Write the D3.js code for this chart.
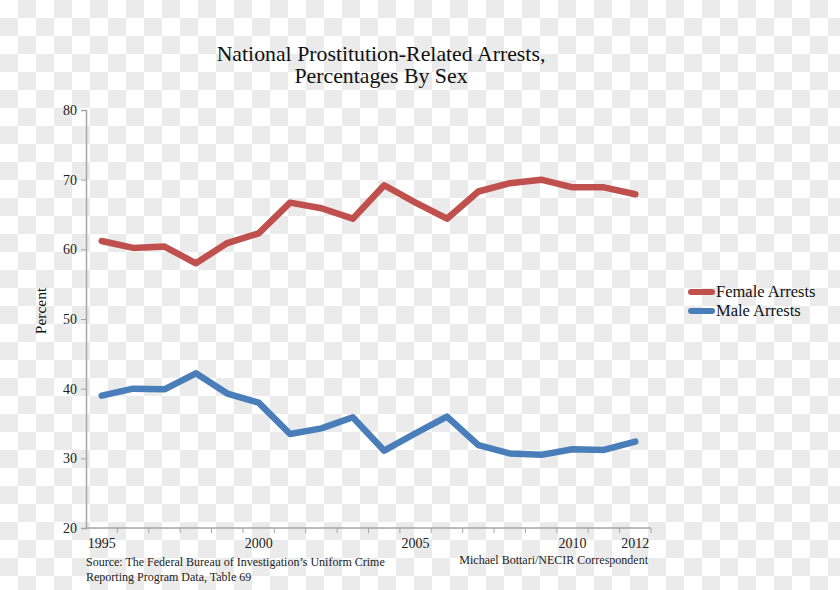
<!DOCTYPE html>
<html><head><meta charset="utf-8">
<script src="https://cdn.jsdelivr.net/npm/d3@7"></script>
<style>html,body{margin:0;padding:0;background:#fff;}svg{display:block;}</style>
</head><body>
<svg id="chart" width="840" height="590"></svg>
<script>
const years = [1995,1996,1997,1998,1999,2000,2001,2002,2003,2004,2005,2006,2007,2008,2009,2010,2011,2012];
const female = [61.2,60.2,60.4,58.0,60.9,62.3,66.7,65.9,64.4,69.2,66.7,64.4,68.3,69.5,70.0,68.9,68.9,67.9];
const male   = [39.0,40.0,39.9,42.2,39.3,38.0,33.5,34.3,35.9,31.1,33.6,36.0,31.9,30.7,30.5,31.3,31.2,32.4];
const yTicks = [20,30,40,50,60,70,80];
const xLabels = [1995,2000,2005,2010,2012];
const seriesNames = ["Female Arrests","Male Arrests"];
const seriesColors = ["#c0504d","#4a7ebb"];

const svg = d3.select("#chart");
const font = "'Liberation Serif', 'DejaVu Serif', serif";

// checkerboard background
const defs = svg.append("defs");
const pat = defs.append("pattern").attr("id","cb").attr("width",36).attr("height",36).attr("patternUnits","userSpaceOnUse");
pat.append("rect").attr("width",36).attr("height",36).attr("fill","#ffffff");
pat.append("rect").attr("x",18).attr("y",0).attr("width",18).attr("height",18).attr("fill","#ebebeb");
pat.append("rect").attr("x",0).attr("y",18).attr("width",18).attr("height",18).attr("fill","#ebebeb");
svg.append("rect").attr("width",840).attr("height",590).attr("fill","url(#cb)");

const mLeft = 86, mRight = 651, mTop = 110, mBottom = 528;
const x = d3.scaleBand().domain(years).range([mLeft,mRight]).padding(0);
const y = d3.scaleLinear().domain([20,80]).range([mBottom,mTop]);

const axisColor = "#a6a6a6";

// Y axis
const yAxis = svg.append("g").attr("transform",`translate(${mLeft},0)`)
  .call(d3.axisLeft(y).tickValues(yTicks).tickSize(5).tickPadding(4).tickFormat(d3.format("d")));
yAxis.select(".domain").attr("stroke",axisColor).attr("stroke-width",1.5);
yAxis.selectAll(".tick line").attr("stroke",axisColor);
yAxis.selectAll(".tick text").attr("font-family",font).attr("font-size",14).attr("fill","#222");

// X axis (ticks between categories)
const xAxisG = svg.append("g").attr("transform",`translate(0,${mBottom})`);
xAxisG.append("line").attr("x1",mLeft).attr("x2",mRight).attr("y1",0).attr("y2",0)
  .attr("stroke",axisColor).attr("stroke-width",1.5);
const boundaries = years.map(d => x(d) + x.bandwidth());
xAxisG.selectAll("line.tk").data(boundaries).enter().append("line").attr("class","tk")
  .attr("x1",d=>d).attr("x2",d=>d).attr("y1",0).attr("y2",5).attr("stroke",axisColor);
xAxisG.selectAll("text").data(xLabels).enter().append("text")
  .attr("x",d=>x(d)+x.bandwidth()/2).attr("y",20).attr("text-anchor","middle")
  .attr("font-family",font).attr("font-size",14).attr("fill","#222").text(d=>d);

// Lines
const line = d3.line().x((d,i)=>x(years[i])+x.bandwidth()/2).y(d=>y(d));
[female, male].forEach((s,i)=>{
  svg.append("path").datum(s).attr("d",line).attr("fill","none")
    .attr("stroke",seriesColors[i]).attr("stroke-width",6.5)
    .attr("stroke-linejoin","round").attr("stroke-linecap","round");
});

// Title
svg.append("text").attr("x",381).attr("y",61).attr("text-anchor","middle")
  .attr("font-family",font).attr("font-size",21.8).attr("fill","#111").text("National Prostitution-Related Arrests,");
svg.append("text").attr("x",381).attr("y",83).attr("text-anchor","middle")
  .attr("font-family",font).attr("font-size",21.8).attr("fill","#111").text("Percentages By Sex");

// Y label
svg.append("text").attr("transform","translate(46,311) rotate(-90)").attr("text-anchor","middle")
  .attr("font-family",font).attr("font-size",15.5).attr("fill","#111").text("Percent");

// Legend
seriesNames.forEach((n,i)=>{
  const ly = 292 + i*19;
  svg.append("line").attr("x1",691).attr("x2",712).attr("y1",ly).attr("y2",ly)
    .attr("stroke",seriesColors[i]).attr("stroke-width",6).attr("stroke-linecap","round");
  svg.append("text").attr("x",716).attr("y",ly+5).attr("font-family",font).attr("font-size",16.5)
    .attr("fill","#111").text(n);
});

// Footnotes
svg.append("text").attr("x",86).attr("y",566).attr("font-family",font).attr("font-size",12).attr("fill","#222")
  .text("Source: The Federal Bureau of Investigation\u2019s Uniform Crime");
svg.append("text").attr("x",86).attr("y",581).attr("font-family",font).attr("font-size",12).attr("fill","#222")
  .text("Reporting Program Data, Table 69");
svg.append("text").attr("x",648).attr("y",564).attr("text-anchor","end").attr("font-family",font).attr("font-size",12).attr("fill","#222")
  .text("Michael Bottari/NECIR Correspondent");
</script>
</body></html>
